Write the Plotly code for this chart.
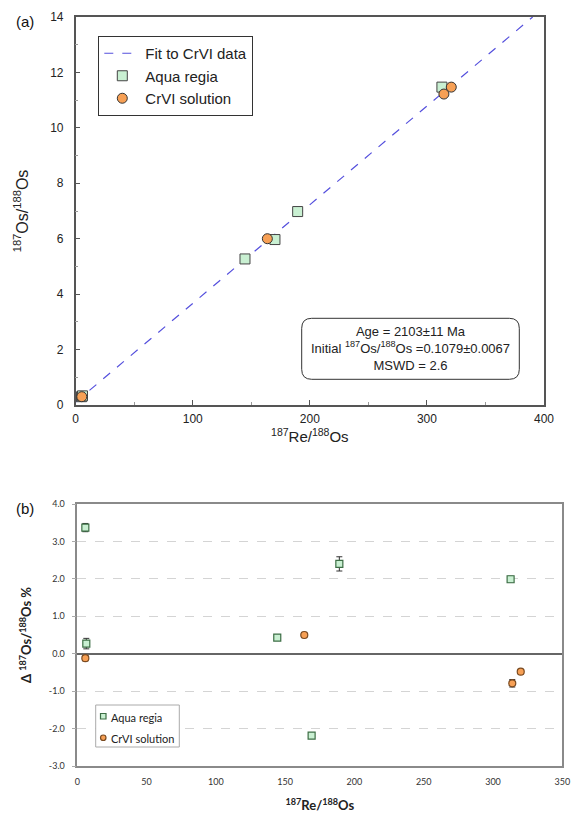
import plotly.graph_objects as go

W, H = 571, 813

# ---------- Data: panel (a) isochron ----------
aqua_re = [5.0, 5.8, 144.6, 170.2, 189.6, 312.8]
aqua_os = [0.30, 0.33, 5.27, 5.97, 6.98, 11.47]
crvi_re = [5.2, 163.7, 314.5, 320.8]
crvi_os = [0.30, 6.00, 11.22, 11.47]
fit_x = [0.0, 390.3]
fit_y = [0.108, 14.0]

# ---------- Data: panel (b) deviations ----------
aqua_dev_x = [5.8, 6.5, 144.3, 169.1, 189.1, 312.7]
aqua_dev_y = [3.37, 0.27, 0.43, -2.19, 2.40, 1.99]
aqua_dev_err = [0.11, 0.14, 0.05, 0.05, 0.19, 0.08]
crvi_dev_x = [5.8, 163.8, 313.9, 320.0]
crvi_dev_y = [-0.12, 0.50, -0.79, -0.48]
crvi_dev_err = [0.07, 0.07, 0.10, 0.06]

a_xticks = [0, 100, 200, 300, 400]
a_yticks = [0, 2, 4, 6, 8, 10, 12, 14]
b_xticks = [0, 50, 100, 150, 200, 250, 300, 350]
b_yticks = [-3, -2, -1, 0, 1, 2, 3, 4]
b_ytick_labels = ["-3.0", "-2.0", "-1.0", "0.0", "1.0", "2.0", "3.0", "4.0"]

GREEN_FILL = "#c9f0d2"
ORANGE_FILL = "#f7a055"


def px(x):
    return x / W


def py(y):
    return 1 - y / H


fig = go.Figure()

# Panel (a)
fig.add_trace(go.Scatter(x=fit_x, y=fit_y, mode="lines", name="Fit to CrVI data",
                         line=dict(color="#5550dd", width=1.2, dash="dash"),
                         xaxis="x", yaxis="y", legend="legend"))
fig.add_trace(go.Scatter(x=aqua_re, y=aqua_os, mode="markers", name="Aqua regia",
                         marker=dict(symbol="square", size=10, color=GREEN_FILL,
                                     line=dict(color="#444444", width=1)),
                         xaxis="x", yaxis="y", legend="legend", cliponaxis=False))
fig.add_trace(go.Scatter(x=crvi_re, y=crvi_os, mode="markers", name="CrVI solution",
                         marker=dict(symbol="circle", size=10, color=ORANGE_FILL,
                                     line=dict(color="#333333", width=1)),
                         xaxis="x", yaxis="y", legend="legend", cliponaxis=False))

# Panel (b)
fig.add_trace(go.Scatter(x=aqua_dev_x, y=aqua_dev_y, mode="markers", name="Aqua regia",
                         error_y=dict(type="data", array=aqua_dev_err, color="#333333",
                                      thickness=1, width=3),
                         marker=dict(symbol="square", size=7, color=GREEN_FILL,
                                     line=dict(color="#3d6e45", width=1.2)),
                         xaxis="x2", yaxis="y2", showlegend=False))
fig.add_trace(go.Scatter(x=crvi_dev_x, y=crvi_dev_y, mode="markers", name="CrVI solution",
                         error_y=dict(type="data", array=crvi_dev_err, color="#333333",
                                      thickness=1, width=3),
                         marker=dict(symbol="circle", size=7, color=ORANGE_FILL,
                                     line=dict(color="#7a4a20", width=1.2)),
                         xaxis="x2", yaxis="y2", showlegend=False))

FA = "Liberation Sans, Arial, sans-serif"
FB = "Lato, Open Sans, sans-serif"

fig.update_layout(
    width=W, height=H,
    margin=dict(l=0, r=0, t=0, b=0),
    paper_bgcolor="white", plot_bgcolor="white",
    font=dict(family=FA, color="#222222"),
    xaxis=dict(domain=[px(75.7), px(544)], anchor="y", range=[0, 400],
               tickvals=a_xticks, ticks="inside", ticklen=5, tickcolor="#555555",
               minor=dict(ticks="inside", dtick=50, tick0=0, ticklen=3, tickcolor="#999999"),
               showline=True, linecolor="#555555", linewidth=1.5, mirror=True,
               showgrid=False, zeroline=False, tickfont=dict(size=12, color="#222222"),
               ticklabelstandoff=2,
               title=dict(text="<sup>187</sup>Re/<sup>188</sup>Os", font=dict(size=15), standoff=4),
               automargin=False),
    yaxis=dict(domain=[py(405), py(17)], anchor="x", range=[0, 14],
               tickvals=a_yticks, ticks="inside", ticklen=5, tickcolor="#555555",
               minor=dict(ticks="inside", dtick=1, tick0=0, ticklen=3, tickcolor="#999999"),
               showline=True, linecolor="#555555", linewidth=1.5, mirror=True,
               showgrid=False, zeroline=False, tickfont=dict(size=12, color="#222222"),
               ticklabelstandoff=8,
               title=dict(text="<sup>187</sup>Os/<sup>188</sup>Os", font=dict(size=16), standoff=18),
               automargin=False),
    xaxis2=dict(domain=[px(77.3), px(562.3)], anchor="y2", range=[0, 350],
                tickvals=b_xticks, ticks="", showline=True, linecolor="#8a8a8a",
                linewidth=1.5, mirror=True, showgrid=False, zeroline=False,
                tickfont=dict(size=9, family=FB, color="#333333"),
                ticklabelstandoff=6,
                title=dict(text="<b><sup>187</sup>Re/<sup>188</sup>Os</b>",
                           font=dict(size=13, family=FB, color="#222222"), standoff=16),
                automargin=False),
    yaxis2=dict(domain=[py(766), py(504)], anchor="x2", range=[-3, 4],
                tickvals=b_yticks, ticktext=b_ytick_labels, ticks="outside", ticklen=4,
                tickcolor="#aaaaaa", showline=True, linecolor="#8a8a8a", linewidth=1.5,
                mirror=True, showgrid=True, gridcolor="#d4d4d4", griddash="dash",
                gridwidth=1, zeroline=True, zerolinecolor="#666666", zerolinewidth=1.5,
                tickfont=dict(size=9, family=FB, color="#333333"),
                ticklabelstandoff=5,
                title=dict(text="<b>Δ <sup>187</sup>Os/<sup>188</sup>Os %</b>",
                           font=dict(size=13, family=FB, color="#222222"), standoff=14),
                automargin=False),
    legend=dict(x=px(98.3), y=py(36), xanchor="left", yanchor="top",
                bordercolor="#333333", borderwidth=1, bgcolor="white",
                font=dict(size=15, family=FA, color="#222222"),
                itemwidth=36, tracegroupgap=0),
    showlegend=True,
)

# Rounded box for age annotation
x0, x1 = px(301.7), px(519.3)
y0, y1 = py(379.3), py(318.3)
rx, ry = 10 / W, 10 / H
path = (f"M {x0+rx},{y1} L {x1-rx},{y1} Q {x1},{y1} {x1},{y1-ry} "
        f"L {x1},{y0+ry} Q {x1},{y0} {x1-rx},{y0} L {x0+rx},{y0} "
        f"Q {x0},{y0} {x0},{y0+ry} L {x0},{y1-ry} Q {x0},{y1} {x0+rx},{y1} Z")
fig.add_shape(type="path", path=path, xref="paper", yref="paper",
              line=dict(color="#333333", width=1), fillcolor="white", layer="above")

fig.add_annotation(x=(x0 + x1) / 2, y=(y0 + y1) / 2, xref="paper", yref="paper",
                   xanchor="center", yanchor="middle",
                   text="Age = 2103±11 Ma<br>Initial <sup>187</sup>Os/<sup>188</sup>Os =0.1079±0.0067<br>MSWD = 2.6",
                   showarrow=False, align="center", font=dict(size=13, family=FA, color="#222222"))

# Panel (b) legend, drawn as a small boxed key
fig.add_shape(type="rect", xref="paper", yref="paper",
              x0=px(95.7), x1=px(179.3), y0=py(747), y1=py(705),
              line=dict(color="#aaaaaa", width=1), fillcolor="white", layer="above")
fig.add_shape(type="rect", xref="paper", yref="paper",
              x0=px(100.5), x1=px(106), y0=py(719), y1=py(713.5),
              line=dict(color="#3d6e45", width=1.2), fillcolor=GREEN_FILL, layer="above")
fig.add_shape(type="circle", xref="paper", yref="paper",
              x0=px(100.5), x1=px(106), y0=py(740.5), y1=py(735),
              line=dict(color="#7a4a20", width=1.2), fillcolor=ORANGE_FILL, layer="above")
fig.add_annotation(x=px(109), y=py(717), xref="paper", yref="paper", text="Aqua regia",
                   showarrow=False, xanchor="left", yanchor="middle",
                   font=dict(size=11, family=FB, color="#222222"))
fig.add_annotation(x=px(109), y=py(738), xref="paper", yref="paper", text="CrVI solution",
                   showarrow=False, xanchor="left", yanchor="middle",
                   font=dict(size=11, family=FB, color="#222222"))

fig.add_annotation(x=px(14), y=py(22), xref="paper", yref="paper", text="(a)",
                   showarrow=False, xanchor="left", yanchor="middle",
                   font=dict(size=15, family=FA, color="#111111"))
fig.add_annotation(x=px(14), y=py(508), xref="paper", yref="paper", text="(b)",
                   showarrow=False, xanchor="left", yanchor="middle",
                   font=dict(size=15, family=FA, color="#111111"))

fig.write_html("out.html", config={"displayModeBar": False},
               post_script="document.body.style.margin='0';document.body.style.overflow='hidden';")
